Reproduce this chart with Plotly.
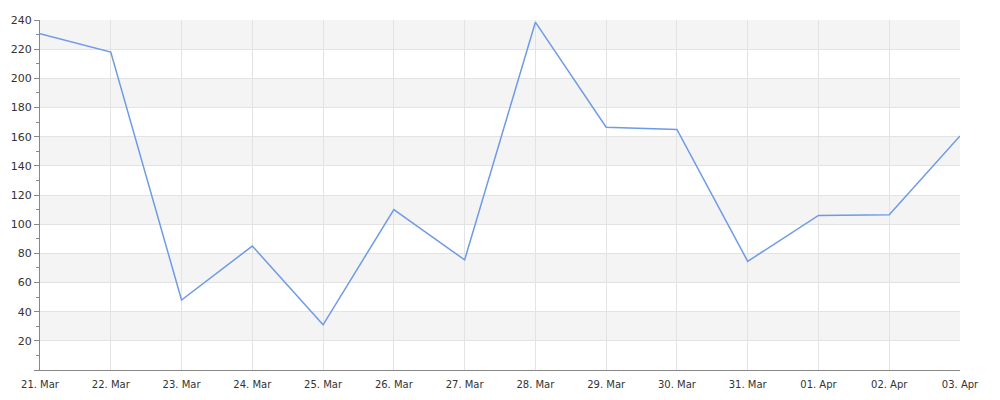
import plotly.graph_objects as go

# daily values, 21 Mar - 03 Apr
dates = ['2024-03-21', '2024-03-22', '2024-03-23', '2024-03-24', '2024-03-25',
         '2024-03-26', '2024-03-27', '2024-03-28', '2024-03-29', '2024-03-30',
         '2024-03-31', '2024-04-01', '2024-04-02', '2024-04-03']
values = [230.5, 218, 48, 85, 31, 110, 75.5, 238.5, 166.5, 165, 74.5, 106, 106.5, 160.5]

ytick_vals = list(range(0, 241, 20))
ytick_text = [''] + [str(v) for v in ytick_vals[1:]]

fig = go.Figure(go.Scatter(x=dates, y=values, mode='lines',
                           line={'color': '#6f9ae6', 'width': 1.5},
                           hoverinfo='x+y'))

# alternating grey bands
for lo in ytick_vals[1:-1:2]:
    fig.add_shape(type='rect', xref='paper', yref='y', x0=0, x1=1, y0=lo, y1=lo + 20,
                  fillcolor='#f4f4f4', line_width=0, layer='below')

# page body has an 8px margin, so the figure is a bit smaller than the window
fig.update_layout(width=984, height=384,
                  margin={'l': 32, 'r': 32, 't': 12, 'b': 22, 'autoexpand': False},
                  plot_bgcolor='white', paper_bgcolor='white',
                  showlegend=False,
                  font={'family': 'DejaVu Sans', 'color': '#333333', 'size': 11})
fig.update_xaxes(type='date', range=['2024-03-21', '2024-04-03'],
                 tickformat='%d. %b', dtick=86400000, tick0='2024-03-21',
                 showgrid=True, gridcolor='#e3e3e3', gridwidth=1,
                 showline=True, linecolor='#888888', linewidth=1,
                 ticks='outside', ticklen=5, tickcolor='rgba(0,0,0,0)',
                 tickfont={'size': 10}, zeroline=False, automargin=False)
fig.update_yaxes(range=[0, 240], tickmode='array', tickvals=ytick_vals, ticktext=ytick_text,
                 showgrid=True, gridcolor='#e3e3e3', gridwidth=1,
                 showline=True, linecolor='#888888', linewidth=1,
                 ticks='outside', ticklen=5, tickcolor='#888888',
                 minor={'ticks': 'outside', 'ticklen': 3, 'dtick': 10, 'tick0': 0,
                        'tickcolor': '#888888', 'showgrid': False},
                 zeroline=False, tickfont={'size': 11}, automargin=False)

fig.write_html('out.html')
